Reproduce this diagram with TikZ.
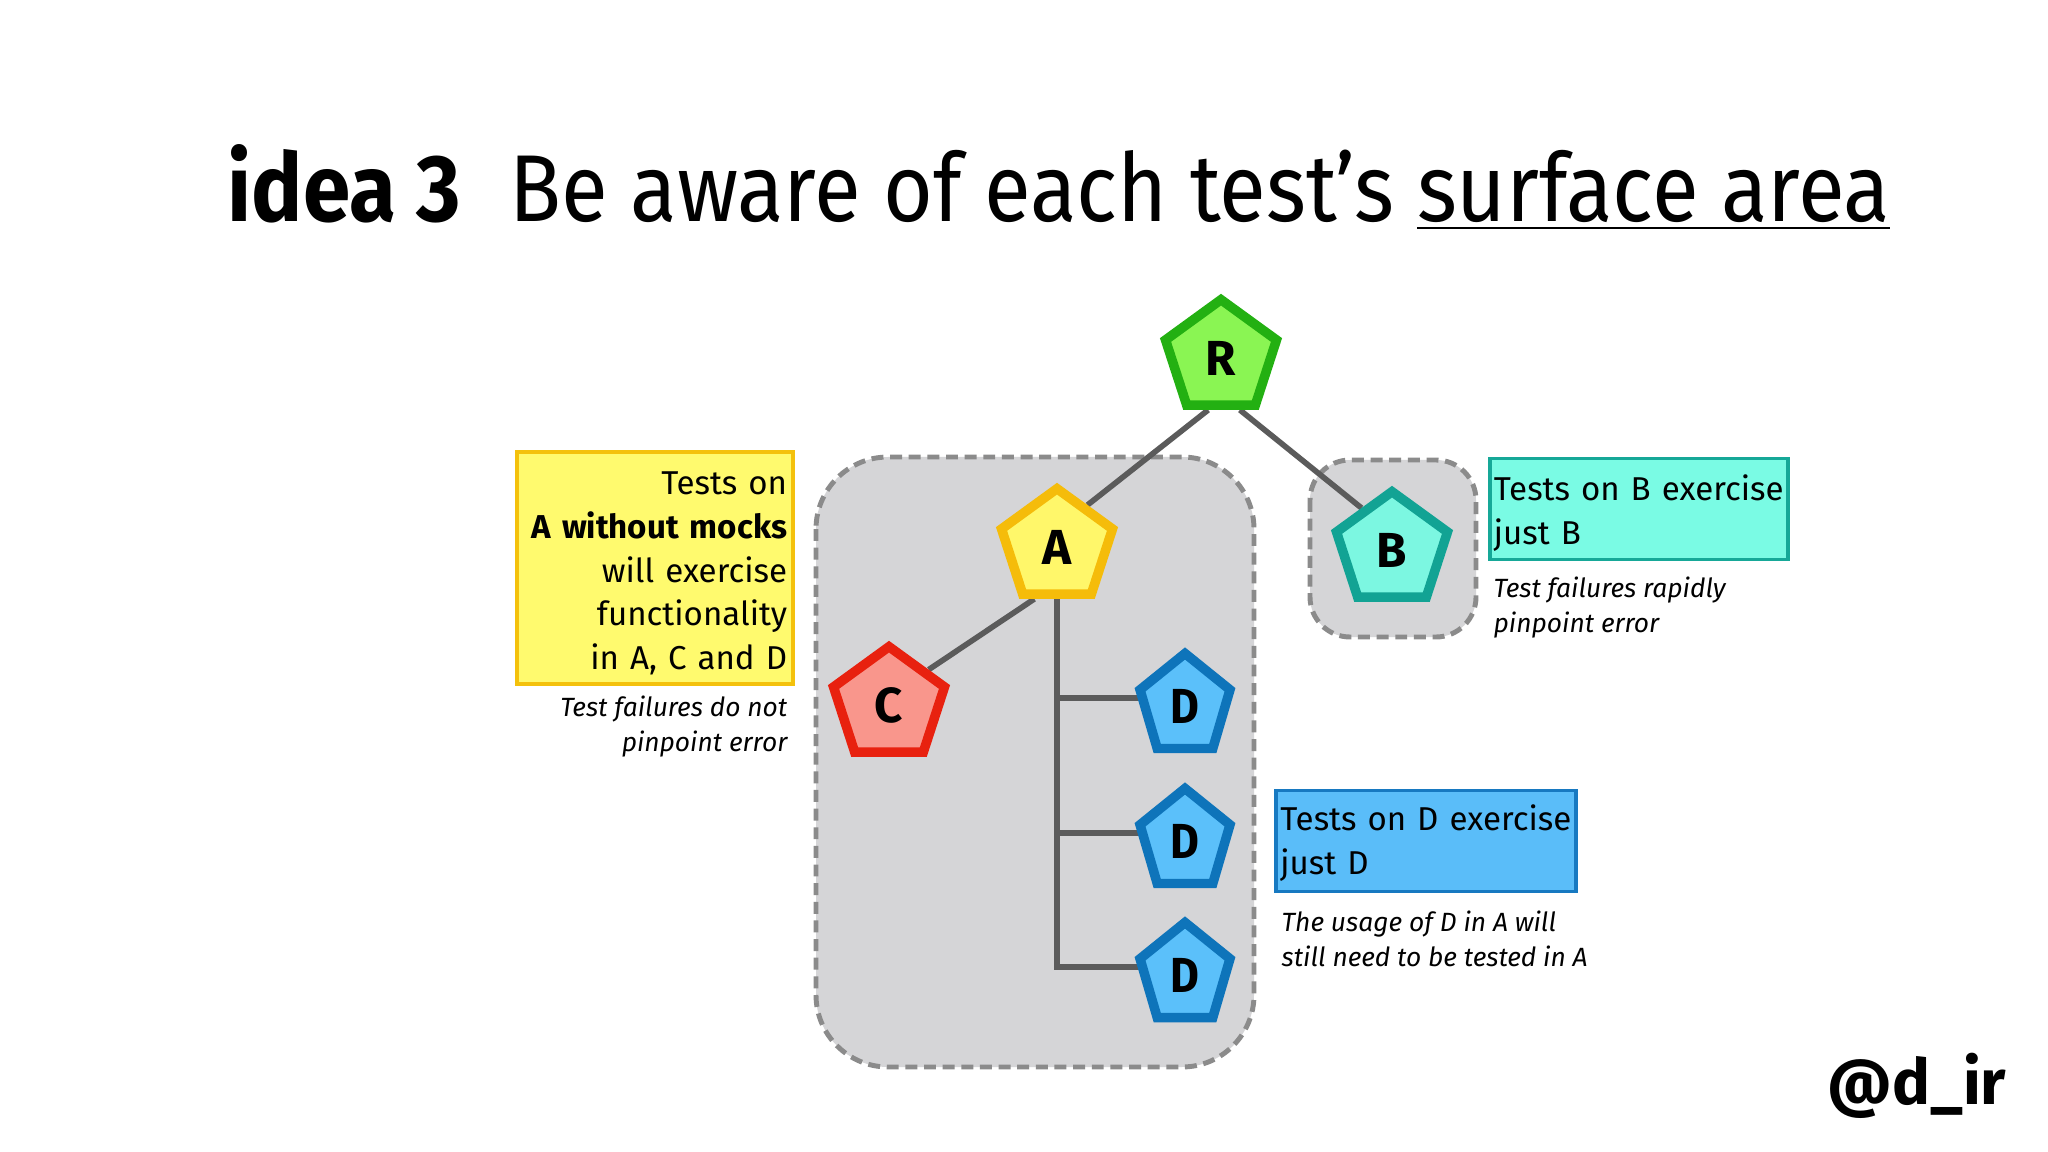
\documentclass[tikz,border=0pt]{standalone}
\usepackage{fontspec}
\setmainfont{Fira Sans}
\newfontfamily\titlefont[FakeStretch=0.9]{Fira Sans}
\usetikzlibrary{shapes.geometric,calc}

\pgfdeclarelayer{back}
\pgfdeclarelayer{wires}
\pgfsetlayers{back,wires,main}

\definecolor{rfill}{HTML}{8AF553}
\definecolor{rline}{HTML}{23B012}
\definecolor{afill}{HTML}{FFF76A}
\definecolor{aline}{HTML}{F5BC0A}
\definecolor{bfill}{HTML}{7CF7E1}
\definecolor{bline}{HTML}{12A394}
\definecolor{cfill}{HTML}{F9968C}
\definecolor{cline}{HTML}{E8210F}
\definecolor{dfill}{HTML}{5BC0FA}
\definecolor{dline}{HTML}{0E74BA}
\definecolor{yboxfill}{HTML}{FFFA6E}
\definecolor{yboxline}{HTML}{F4C10C}
\definecolor{cboxfill}{HTML}{7AFBE4}
\definecolor{cboxline}{HTML}{16A898}
\definecolor{dboxfill}{HTML}{5ABDF9}
\definecolor{dboxline}{HTML}{1779C1}
\definecolor{zonefill}{HTML}{D5D5D7}
\definecolor{zoneline}{HTML}{8B8B8B}
\definecolor{wirecol}{HTML}{5B5B5B}

\tikzset{
  penta/.style={regular polygon, regular polygon sides=5, minimum size=1.166cm,
    inner sep=0pt, line width=2.7pt, line join=miter,
    font=\bfseries\fontsize{14}{14}\selectfont},
  wire/.style={draw=wirecol, line width=1.6pt},
  zone/.style={fill=zonefill, draw=zoneline, line width=1.4pt,
    dash pattern=on 3.4pt off 1.9pt},
  tbox/.style={rectangle, line width=1.1pt, inner ysep=0pt, inner xsep=0.04cm,
    font=\fontsize{9.4}{12.4}\selectfont},
  note/.style={inner sep=0pt, font=\itshape\fontsize{7.5}{10}\selectfont}
}

\begin{document}
\begin{tikzpicture}[x=0.01cm, y=-0.01cm]
  \useasboundingbox (0,0) rectangle (2048,1152);

  % title
  \node[anchor=base west, inner sep=0pt, font=\titlefont\bfseries\fontsize{27}{32}\selectfont] (idea) at (227,222) {idea 3};
  \node[anchor=base west, inner sep=0pt, font=\titlefont\fontsize{27}{32}\selectfont] (head) at (509,222) {Be aware of each test’s \underline{surface area}};

  % modules
  \node[penta, fill=rfill, draw=rline] (R) at (1221,358) {R};
  \node[penta, fill=afill, draw=aline] (A) at (1057,547) {A};
  \node[penta, fill=bfill, draw=bline] (B) at (1392,550) {B};
  \node[penta, fill=cfill, draw=cline] (C) at (889,705) {C};
  \node[penta, fill=dfill, draw=dline, minimum size=1.05cm, xscale=0.9] (D1) at (1185,706) {D};
  \node[penta, fill=dfill, draw=dline, minimum size=1.05cm, xscale=0.9] (D2) at (1185,841) {D};
  \node[penta, fill=dfill, draw=dline, minimum size=1.05cm, xscale=0.9] (D3) at (1185,975) {D};

  \begin{pgfonlayer}{back}
    \fill[white] (0,0) rectangle (2048,1152);
    \draw[zone, rounded corners=0.72cm] (816,457) rectangle (1254,1067);
    \draw[zone, rounded corners=0.4cm] (1310,460) rectangle (1476,637);
  \end{pgfonlayer}

  \begin{pgfonlayer}{wires}
    \draw[wire] ($(R.corner 3)!0.33!(R.corner 4)$) -- (A.side 5);
    \draw[wire] ($(R.corner 3)!0.75!(R.corner 4)$) -- (B.side 1);
    \draw[wire] ($(A.corner 3)!0.2!(A.corner 4)$) -- ($(C.corner 5)!0.35!(C.corner 1)$);
    \foreach \d in {D1,D2,D3}
      \draw[wire] ([yshift=0.08cm]\d.west) -| (A.side 3);
  \end{pgfonlayer}

  % test boxes
  \node[tbox, fill=yboxfill, draw=yboxline, minimum width=2.76cm, minimum height=2.32cm,
    text width=2.64cm, align=right] (testA) at (655,568)
    {\rule{0pt}{9.6pt}Tests on\\ \textbf{A without mocks}\\ will exercise\\ functionality\\ in A, C and D};
  \node[note, align=right, anchor=north east] (noteA) at (788,695)
    {Test failures do not\\ pinpoint error};

  \node[tbox, fill=cboxfill, draw=cboxline, minimum width=2.98cm, minimum height=1.01cm,
    text width=2.9cm, align=left] (testB) at (1639,509)
    {\rule{0pt}{9.6pt}Tests on B exercise\\ just B};
  \node[note, align=left, anchor=north west] (noteB) at (1493,576)
    {Test failures rapidly\\ pinpoint error};

  \node[tbox, fill=dboxfill, draw=dboxline, minimum width=2.99cm, minimum height=1.01cm,
    text width=2.91cm, align=left] (testD) at (1426,841)
    {\rule{0pt}{8.5pt}Tests on D exercise\\ just D};
  \node[note, align=left, anchor=north west] (noteD) at (1281,910)
    {The usage of D in A will\\ still need to be tested in A};

  \node[anchor=base east, inner sep=0pt, font=\bfseries\fontsize{18}{20}\selectfont] (handle) at (2007,1104) {@d\_ir};
\end{tikzpicture}
\end{document}
